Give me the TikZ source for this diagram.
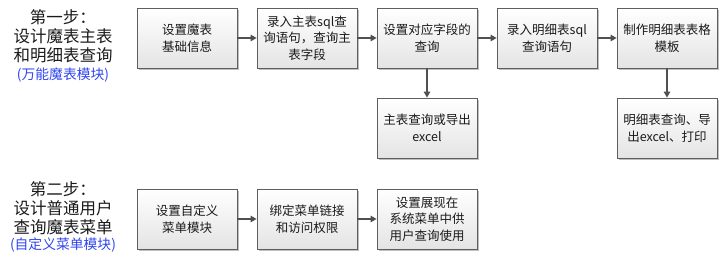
\documentclass[tikz,border=0pt]{standalone}
\usepackage{fontspec}
\newfontfamily\cjk{Noto Sans CJK SC}
\usepackage{tikz}
\usetikzlibrary{arrows.meta,calc,positioning,shadows}
\usepackage{xcolor}
\definecolor{StepText}{HTML}{1A1A1A}
\definecolor{StepBlue}{HTML}{2F45F0}
\definecolor{StepBorder}{HTML}{5E5E5E}
\definecolor{StepArrow}{HTML}{505050}
\definecolor{StepFill}{HTML}{E4E4E4}

\begin{document}
\begin{tikzpicture}[
  x=1pt,y=-1pt,font=\cjk,>=Latex,
  flow/.style={-{Triangle[length=6pt,width=6.5pt]},draw=StepArrow,line width=1.2pt},
  stepbox/.style={draw=StepBorder,line width=0.8pt,top color=white,
    bottom color=StepFill,minimum width=100pt,minimum height=60pt,
    inner sep=2pt,align=center,text=StepText,
    font=\cjk\fontsize{12.5}{16.7}\selectfont,
    drop shadow={shadow xshift=1.6pt,shadow yshift=-1.6pt,opacity=0.25,fill=black}},
  title/.style={align=center,text=StepText,inner sep=1pt,
    font=\cjk\fontsize{16.5}{19}\selectfont},
  module/.style={text=StepBlue,inner sep=1pt,font=\cjk\fontsize{13.8}{15}\selectfont}
]
\useasboundingbox (0,0) rectangle (726,261);

% step one: master / detail query
\node[title] (one) at (63,36) {第一步：\\设计魔表主表\\和明细表查询};
\node[module] (onemod) at (63,75) {(万能魔表模块)};

\node[stepbox] (info) at (187,38) {设置魔表\\基础信息};
\node[stepbox] (mainsql) at (307,38) {录入主表sql查\\询语句，查询主\\表字段};
\node[stepbox] (field) at (427,38) {设置对应字段的\\查询};
\node[stepbox] (detailsql) at (547,38) {录入明细表sql\\查询语句};
\node[stepbox] (template) at (667,38) {制作明细表表格\\模板};
\node[stepbox] (mainout) at (427,128) {主表查询或导出\\excel};
\node[stepbox] (detailout) at (667,128) {明细表查询、导\\出excel、打印};

\draw[flow] (info) -- (mainsql);
\draw[flow] (mainsql) -- (field);
\draw[flow] (field) -- (detailsql);
\draw[flow] (detailsql) -- (template);
\draw[flow] (field) -- (mainout);
\draw[flow] (template) -- (detailout);

% step two: menu for ordinary users
\node[title] (two) at (63,208) {第二步：\\设计普通用户\\查询魔表菜单};
\node[module] (twomod) at (63,245) {(自定义菜单模块)};

\node[stepbox] (menu) at (187,219) {设置自定义\\菜单模块};
\node[stepbox] (bind) at (307,219) {绑定菜单链接\\和访问权限};
\node[stepbox] (show) at (427,219) {设置展现在\\系统菜单中供\\用户查询使用};

\draw[flow] (menu) -- (bind);
\draw[flow] (bind) -- (show);

\end{tikzpicture}
\end{document}
